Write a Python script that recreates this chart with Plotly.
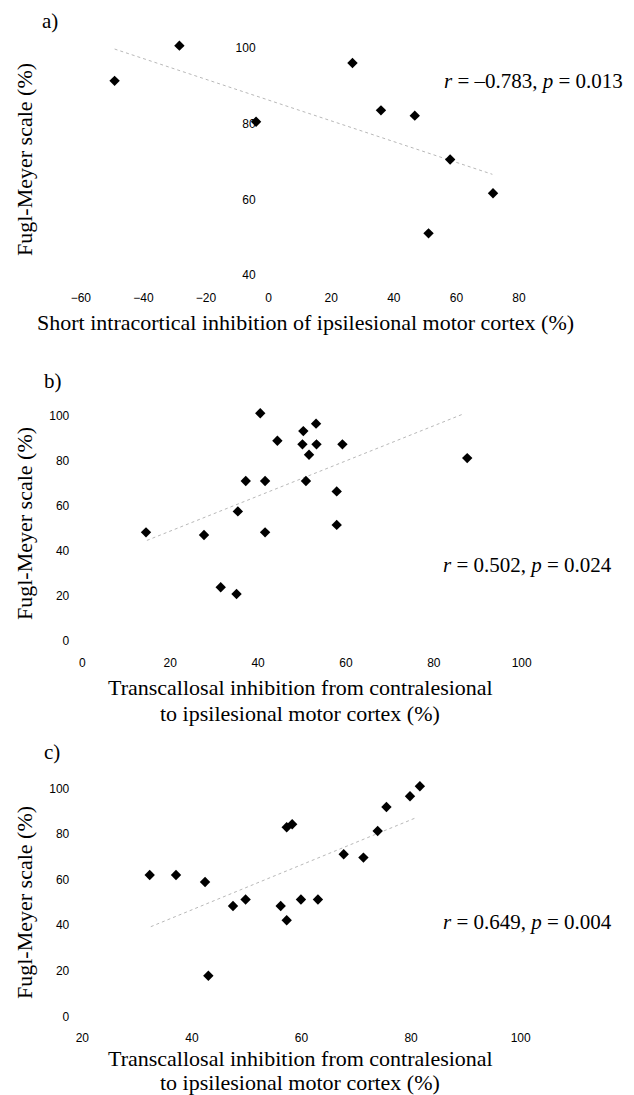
import plotly.graph_objects as go

W, H = 634, 1095

# Panel a data
a_x = [-49.2, -28.5, -4.0, 26.8, 35.9, 46.7, 58.0, 71.7, 51.1]
a_y = [91.3, 100.6, 80.5, 96.0, 83.5, 82.1, 70.5, 61.6, 51.0]
a_fit_x = [-49.2, 71.5]
a_fit_y = [99.7, 66.6]

# Panel b data
b_x = [14.5, 27.7, 31.5, 35.1, 35.4, 37.2, 40.5, 41.6, 41.6, 44.4,
       50.3, 50.1, 50.9, 51.6, 53.2, 53.3, 59.2, 57.9, 57.9, 87.6]
b_y = [48.3, 47.1, 23.9, 20.9, 57.6, 71.1, 101.2, 71.1, 48.3, 89.0,
       93.3, 87.4, 71.1, 82.8, 96.6, 87.4, 87.4, 66.5, 51.6, 81.3]
b_fit_x = [14.7, 86.7]
b_fit_y = [44.7, 100.9]

# Panel c data
c_x = [32.3, 37.1, 42.4, 43.0, 47.5, 49.8, 56.2, 57.3, 57.3, 58.3,
       59.9, 63.0, 67.7, 71.3, 73.9, 75.5, 79.8, 81.6]
c_y = [62.0, 62.0, 58.9, 17.8, 48.4, 51.2, 48.4, 42.1, 82.9, 84.2,
       51.2, 51.2, 71.1, 69.6, 81.3, 91.8, 96.5, 100.9]
c_fit_x = [32.5, 81.1]
c_fit_y = [39.3, 87.3]

a_xticks = [-60, -40, -20, 0, 20, 40, 60, 80]
a_yticks = [40, 60, 80, 100]
b_xticks = [0, 20, 40, 60, 80, 100]
b_yticks = [0, 20, 40, 60, 80, 100]
c_xticks = [20, 40, 60, 80, 100]
c_yticks = [0, 20, 40, 60, 80, 100]

a_stat = "<i>r</i> = \u20130.783, <i>p</i> = 0.013"
b_stat = "<i>r</i> = 0.502, <i>p</i> = 0.024"
c_stat = "<i>r</i> = 0.649, <i>p</i> = 0.004"
ytitle = "Fugl-Meyer scale (%)"
a_xtitle = "Short intracortical inhibition of ipsilesional motor cortex (%)"
bc_xtitle_1 = "Transcallosal inhibition from contralesional"
bc_xtitle_2 = "to ipsilesional motor cortex (%)"

SERIF = "Liberation Serif, Times New Roman, serif"
TICKF = dict(family="Liberation Sans Narrow, Arial Narrow, Liberation Sans, Arial, sans-serif",
             size=12, color="black")


def fx(px):
    return px / W


def fy(py):
    return 1 - py / H


fig = go.Figure()

panels = [
    dict(x=a_x, y=a_y, fx_=a_fit_x, fy_=a_fit_y, s="", xr=[-65, 95], yr=[38, 104],
         x0px=268.6, xupp=3.130, y0val=40, y0px=275, yupp=3.785,
         xt=a_xticks, yt=a_yticks, yaxis_at=0),
    dict(x=b_x, y=b_y, fx_=b_fit_x, fy_=b_fit_y, s="2", xr=[-2, 110], yr=[-3, 104],
         x0px=82.3, xupp=4.394, y0val=0, y0px=641, yupp=2.25,
         xt=b_xticks, yt=b_yticks, yaxis_at=0),
    dict(x=c_x, y=c_y, fx_=c_fit_x, fy_=c_fit_y, s="3", xr=[19, 110], yr=[-3, 104],
         x0px=82.3 - 20 * 5.480, xupp=5.480, y0val=0, y0px=1016.3, yupp=2.28,
         xt=c_xticks, yt=c_yticks, yaxis_at=20),
]

layout = {}
for p in panels:
    s = p["s"]
    xa = "x" + s
    ya = "y" + s
    fig.add_trace(go.Scatter(x=p["fx_"], y=p["fy_"], mode="lines",
                             line=dict(color="#b8b8b8", width=1, dash="dot"),
                             xaxis=xa, yaxis=ya, showlegend=False, hoverinfo="skip"))
    fig.add_trace(go.Scatter(x=p["x"], y=p["y"], mode="markers",
                             marker=dict(symbol="diamond", size=8, color="black"),
                             xaxis=xa, yaxis=ya, showlegend=False))
    xl = p["x0px"] + p["xr"][0] * p["xupp"]
    xr_ = p["x0px"] + p["xr"][1] * p["xupp"]
    yb = p["y0px"] - (p["yr"][0] - p["y0val"]) * p["yupp"]
    yt_ = p["y0px"] - (p["yr"][1] - p["y0val"]) * p["yupp"]
    yaxis_px = p["x0px"] + p["yaxis_at"] * p["xupp"]
    layout["xaxis" + s] = dict(domain=[fx(xl), fx(xr_)], range=p["xr"], anchor=ya,
                               tickvals=p["xt"], showgrid=False, zeroline=False,
                               showline=False, ticks="", tickfont=TICKF, fixedrange=True,
                               ticklabelstandoff=6)
    layout["yaxis" + s] = dict(domain=[fy(yb), fy(yt_)], range=p["yr"], anchor="free",
                               position=fx(yaxis_px),
                               tickvals=p["yt"], showgrid=False, zeroline=False,
                               showline=False, ticks="", tickfont=TICKF, fixedrange=True,
                               ticklabelstandoff=13)

fig.update_layout(**layout)

ann = []


def A(text, px, py, size, angle=0, xanchor="center"):
    ann.append(dict(text=text, x=fx(px), y=fy(py), xref="paper", yref="paper",
                    showarrow=False, textangle=angle, xanchor=xanchor, yanchor="middle",
                    font=dict(family=SERIF, size=size, color="black")))


A("a)", 40, 21, 21, xanchor="left")
A("b)", 42, 381, 21, xanchor="left")
A("c)", 42, 752, 21, xanchor="left")
A(a_stat, 533, 81, 21)
A(b_stat, 527, 565, 21)
A(c_stat, 527, 922, 21)
A(ytitle, 24, 160, 22, angle=-90)
A(ytitle, 24, 524, 22, angle=-90)
A(ytitle, 24, 903, 22, angle=-90)
A(a_xtitle, 305, 323, 22)
A(bc_xtitle_1, 300, 687, 22)
A(bc_xtitle_2, 300, 713, 22)
A(bc_xtitle_1, 300, 1058, 22)
A(bc_xtitle_2, 300, 1082, 22)

fig.update_layout(width=W, height=H, margin=dict(l=0, r=0, t=0, b=0),
                  paper_bgcolor="white", plot_bgcolor="white", annotations=ann)

fig.write_html("out.html", config={"displayModeBar": False},
               post_script="document.body.style.margin='0';")
